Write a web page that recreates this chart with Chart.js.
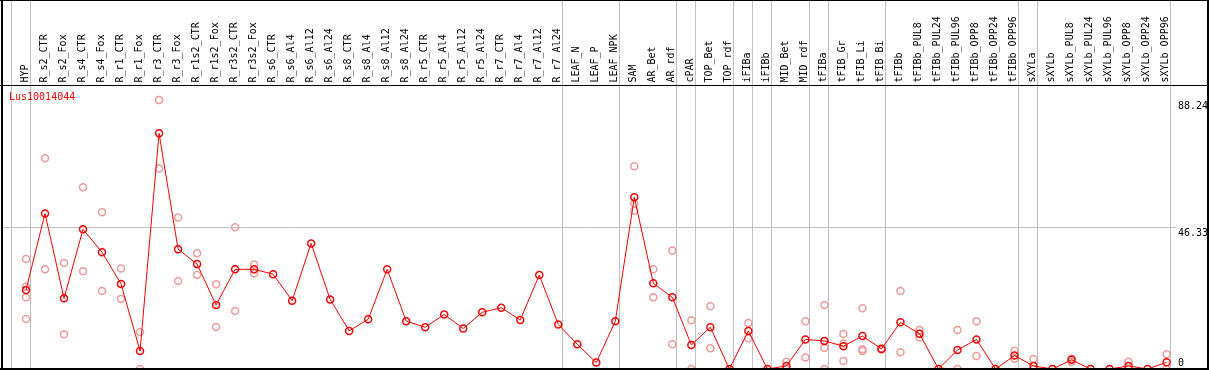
<!DOCTYPE html>
<html>
<head>
<meta charset="utf-8">
<title>Lus10014044</title>
<script src="https://cdn.jsdelivr.net/npm/chart.js@4.4.1/dist/chart.umd.min.js"></script>
<style>
  html, body { margin: 0; padding: 0; background: #fff; }
  canvas { display: block; }
</style>
</head>
<body>
<canvas id="expr" width="1209" height="370"></canvas>
<script>
const geneName = 'Lus10014044';

const categories = [
  'HYP', 'R_s2_CTR', 'R_s2_Fox', 'R_s4_CTR', 'R_s4_Fox', 'R_r1_CTR', 'R_r1_Fox',
  'R_r3_CTR', 'R_r3_Fox', 'R_r1s2_CTR', 'R_r1s2_Fox', 'R_r3s2_CTR', 'R_r3s2_Fox',
  'R_s6_CTR', 'R_s6_Al4', 'R_s6_Al12', 'R_s6_Al24', 'R_s8_CTR', 'R_s8_Al4', 'R_s8_Al12',
  'R_s8_Al24', 'R_r5_CTR', 'R_r5_Al4', 'R_r5_Al12', 'R_r5_Al24', 'R_r7_CTR', 'R_r7_Al4',
  'R_r7_Al12', 'R_r7_Al24', 'LEAF_N', 'LEAF_P', 'LEAF_NPK', 'SAM', 'AR_Bet', 'AR_rdf',
  'cPAR', 'TOP_Bet', 'TOP_rdf', 'iFIBa', 'iFIBb', 'MID_Bet', 'MID_rdf', 'tFIBa',
  'tFIB_Gr', 'tFIB_Li', 'tFIB_Bi', 'tFIBb', 'tFIBb_PUL8', 'tFIBb_PUL24', 'tFIBb_PUL96',
  'tFIBb_OPP8', 'tFIBb_OPP24', 'tFIBb_OPP96', 'sXYLa', 'sXYLb', 'sXYLb_PUL8',
  'sXYLb_PUL24', 'sXYLb_PUL96', 'sXYLb_OPP8', 'sXYLb_OPP24', 'sXYLb_OPP96'
];

// mean expression per sample (the red line)
const meanValues = [
  25.9, 51.0, 23.2, 45.8, 38.3, 27.9, 5.9, 77.3, 39.3, 34.4, 21.0, 32.7, 32.7,
  31.1, 22.4, 41.2, 22.8, 12.5, 16.3, 32.7, 15.7, 13.7, 17.9, 13.3, 18.6, 20.1, 16.1,
  30.8, 14.6, 8.1, 2.1, 15.7, 56.3, 28.1, 23.5, 7.9, 13.7, 0, 12.5, 0, 1.0, 9.7, 9.2,
  7.5, 10.8, 6.6, 15.3, 11.6, 0, 6.2, 9.7, 0, 4.4, 1.0, 0, 3.0, 0, 0, 1.0, 0, 2.2
];

// single replicates (pink circles), one list per sample
const replicateValues = [
  [36.1, 27.0, 23.5, 16.4], [69.1, 32.7], [34.8, 11.4], [59.6, 32.1], [51.4, 25.6],
  [33.0, 23.0], [12.1, 0], [88.24, 65.8], [49.7, 28.9], [38.0, 30.8], [27.8, 13.8],
  [46.5, 19.0], [34.3, 31.4],
  [], [], [], [], [], [], [], [], [], [], [], [], [], [], [], [], [], [], [],
  [66.5, 54.3, 51.9], [32.7, 23.5], [38.9, 8.1], [16.0, 0], [20.6, 6.8], [],
  [15.1, 10.1], [], [2.4, 0], [15.7, 3.8], [21.0, 7.0, 0], [11.5, 8.4, 2.6],
  [19.9, 6.5, 5.9], [6.8, 6.4], [25.6, 5.5], [12.8, 10.3], [], [12.8, 0], [15.7, 4.3],
  [], [6.0, 3.4], [3.3, 0], [], [3.4, 2.3], [], [], [2.4, 0], [], [4.8, 0]
];

// last sample of each group (gray separators), -1 = left edge
const groupEnds = [-1, 0, 28, 31, 34, 35, 37, 38, 39, 41, 42, 45, 52, 53, 60];

const yTickValues = [0, 46.33, 88.24];
const yMax = 92.66;

const monoFont = { family: '"DejaVu Sans Mono", monospace', size: 10 };

const meanPoints = meanValues.map((v, i) => ({ x: i, y: v }));
const repPoints = [];
replicateValues.forEach((reps, i) => reps.forEach(v => repPoints.push({ x: i, y: v })));

const framePlugin = {
  id: 'frame',
  beforeDatasetsDraw(chart) {
    const { ctx } = chart;
    const x = chart.scales.x;
    ctx.save();
    ctx.strokeStyle = '#c0c0c0';
    ctx.lineWidth = 1;
    groupEnds.forEach(i => {
      const px = Math.round(x.getPixelForValue(i + 0.2)) + 0.5;
      ctx.beginPath();
      ctx.moveTo(px, 0);
      ctx.lineTo(px, 369);
      ctx.stroke();
    });
    ctx.restore();
  },
  afterDraw(chart) {
    const { ctx, width, height } = chart;
    ctx.save();
    ctx.fillStyle = '#000';
    ctx.fillRect(0, 0, width, 1);
    ctx.fillRect(0, 85, width, 1);
    ctx.fillRect(1, 0, 2, height);
    ctx.fillRect(width - 2, 0, 2, height);
    ctx.fillRect(0, height - 2, width, 2);
    ctx.fillStyle = 'red';
    ctx.font = '10px "DejaVu Sans Mono", monospace';
    ctx.textBaseline = 'alphabetic';
    ctx.fillText(geneName, 9, 100);
    ctx.restore();
  }
};

new Chart(document.getElementById('expr'), {
  type: 'line',
  data: {
    datasets: [
      {
        type: 'line',
        data: meanPoints,
        borderColor: 'red',
        borderWidth: 1,
        pointRadius: 3.5,
        pointBorderWidth: 1.5,
        pointBorderColor: 'red',
        pointBackgroundColor: 'rgba(0,0,0,0)',
        fill: false,
        tension: 0,
        order: 1
      },
      {
        type: 'scatter',
        data: repPoints,
        showLine: false,
        pointRadius: 3.5,
        pointBorderWidth: 1.5,
        pointBorderColor: '#ee9a9a',
        pointBackgroundColor: 'rgba(0,0,0,0)',
        order: 2
      }
    ]
  },
  options: {
    responsive: false,
    animation: false,
    layout: { autoPadding: false, padding: { left: 1, right: 0, top: 0, bottom: 1 } },
    plugins: { legend: { display: false }, tooltip: { enabled: false } },
    scales: {
      x: {
        type: 'linear',
        position: 'top',
        min: -1.315,
        max: 60.495,
        afterBuildTicks: s => { s.ticks = categories.map((c, i) => ({ value: i })); },
        afterFit: s => {
          s.height = 86.5;
          s.paddingLeft = 0;
          s.paddingRight = 0;
        },
        border: { display: false },
        grid: { display: false, drawTicks: false },
        ticks: {
          autoSkip: false,
          minRotation: 90,
          maxRotation: 90,
          padding: 4,
          labelOffset: 11,
          color: '#000',
          font: monoFont,
          callback: v => categories[v]
        }
      },
      y: {
        position: 'right',
        min: 0,
        max: yMax,
        afterBuildTicks: s => { s.ticks = yTickValues.map(v => ({ value: v })); },
        afterFit: s => {
          s.width = 33;
          s.paddingTop = 0;
          s.paddingBottom = 0;
        },
        border: { display: false },
        grid: {
          drawTicks: false,
          color: c => (c.tick && c.tick.value === 46.33 ? '#c0c0c0' : 'rgba(0,0,0,0)')
        },
        ticks: {
          padding: 2,
          color: '#000',
          font: { ...monoFont, lineHeight: 1.2 },
          callback: v => (v === 0 ? ['0', ''] : ['', String(v)])
        }
      }
    }
  },
  plugins: [framePlugin]
});
</script>
</body>
</html>
